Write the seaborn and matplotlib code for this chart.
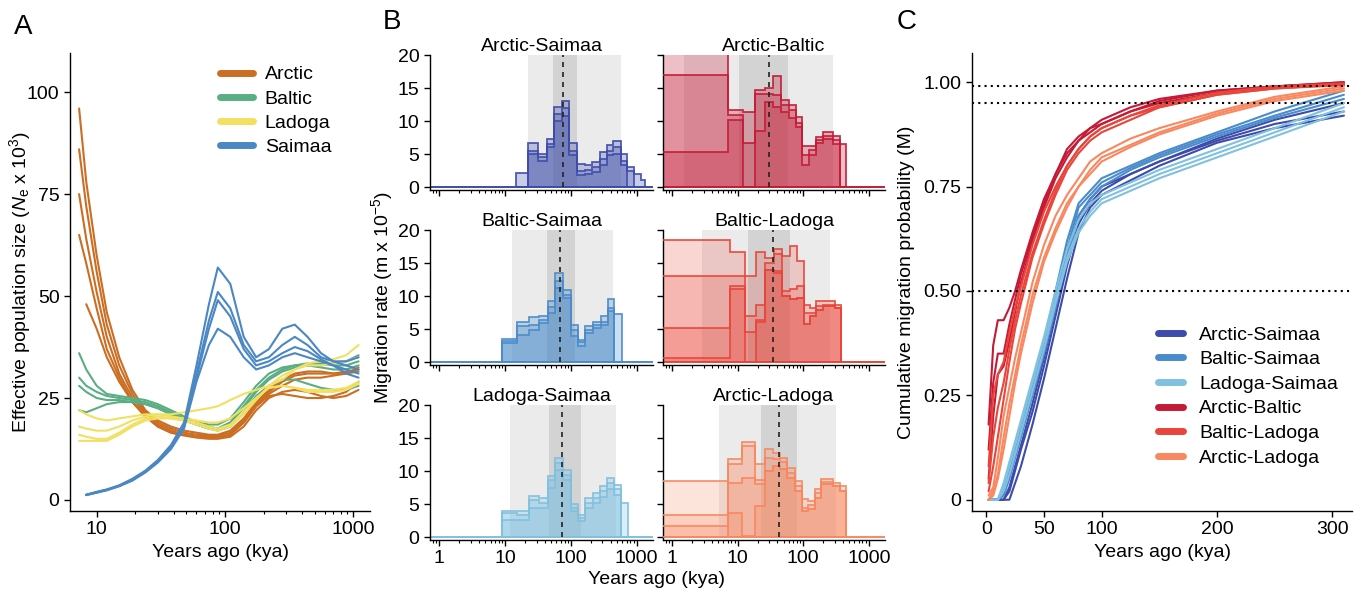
import numpy as np
import pandas as pd
import seaborn as sns
import matplotlib.pyplot as plt
from matplotlib.lines import Line2D
from matplotlib.ticker import FixedLocator, FixedFormatter, NullFormatter

# ---------------- data ----------------
# Panel A: effective population size (x1000) by replicate
a_kya = [7.3, 8.3, 10, 12, 15, 19, 24, 30, 38, 48, 60, 75, 88, 110, 140, 175, 220, 280, 350, 440, 560, 700, 880, 1100]
arctic_ne = [
    [96, 78, 60, 46, 35, 27, 22, 19.5, 18, 17, 16.5, 16, 16, 17, 20, 24, 27, 29.5, 31, 31.5, 31.5, 31, 31, 31.5],
    [86, 72, 56, 43, 33, 26, 21.5, 19, 17.5, 16.5, 16, 15.8, 15.8, 16.5, 19.5, 23.5, 26.5, 29, 30.5, 31, 31, 31, 31.5, 32],
    [75, 64, 51, 40, 31, 25, 21, 18.5, 17, 16, 15.5, 15.5, 15.5, 16, 19, 23, 26, 28, 29.5, 30, 30, 30.5, 31, 32.5],
    [65, 58, 47, 37, 30, 24, 20.5, 18, 16.5, 15.8, 15.3, 15, 15, 15.5, 18, 22, 25, 26.5, 27, 26.5, 25.5, 25, 25.5, 27],
    [np.nan, 48, 42, 35, 29, 24, 20.5, 18, 16.5, 16, 15.5, 15.3, 15.2, 16, 19, 23, 25.5, 26, 25.5, 25, 25, 25.5, 26.5, 29],
]
baltic_ne = [
    [36, 32, 28, 26, 25.5, 25, 24.5, 23.5, 22, 20.5, 19, 18, 17.5, 19, 22.5, 26.5, 29.5, 31.5, 32.5, 33, 33, 33.5, 34, 35.5],
    [30, 28, 26.5, 25.5, 25, 24.5, 24, 23, 21.5, 20, 18.5, 17.5, 17, 18, 21.5, 25.5, 28, 29.5, 29.5, 28.5, 27.5, 27, 27, 28],
    [28, 26.5, 25, 24.5, 24.5, 24, 23.5, 22.5, 21, 19.5, 18.5, 17.5, 17.5, 19, 23, 27, 30, 32, 33, 33.5, 33.5, 33, 33, 34],
    [22, 21.5, 22.5, 23.5, 24, 24, 23.5, 22.5, 21, 20, 19, 18.5, 18.5, 20, 24, 28, 31, 32.5, 33, 33, 32.5, 32, 32, 33],
]
ladoga_ne = [
    [22, 21, 20, 19.5, 20, 20.5, 21, 21, 21, 21.5, 22, 22.5, 23, 24.5, 26, 27, 28, 29.5, 32, 33.5, 34, 34.5, 35.5, 38],
    [18, 17.5, 17, 17, 18, 19.5, 20.5, 21, 20.5, 20, 19.5, 19, 19, 20, 22.5, 25, 27.5, 28, 27.5, 27, 27, 27, 27.5, 29],
    [16, 15.5, 15, 15, 16.5, 18.5, 20, 20.5, 20, 19.5, 18.5, 17.5, 17, 18, 21, 24.5, 28, 30.5, 32, 33, 33, 33.5, 34, 35],
    [14.5, 14.5, 14.5, 14.5, 16, 18, 19.5, 20, 20, 19.5, 19, 18, 17.5, 18.5, 21.5, 25, 27.5, 28, 27.5, 26.5, 26.5, 26.5, 27, 28.5],
]
saimaa_ne = [
    [np.nan, 1.3, 2.0, 2.6, 3.6, 5.2, 7.2, 9.8, 13.5, 19, 33, 48, 57, 53, 40, 35, 37, 42, 43, 40, 36, 34, 33, 32],
    [np.nan, 1.3, 1.9, 2.5, 3.5, 5, 7, 9.5, 13, 18.5, 31, 44, 51, 47, 38, 34, 35, 38, 40, 38, 35, 34, 34, 35],
    [np.nan, 1.2, 1.8, 2.4, 3.4, 4.8, 6.8, 9.3, 12.8, 18, 30, 42, 49, 45, 37, 33, 34, 36, 37.5, 36.5, 34.5, 33, 32, 31],
    [np.nan, 1.2, 1.8, 2.4, 3.4, 4.8, 6.8, 9.2, 12.5, 17.5, 29, 38, 42, 40, 35, 32, 33, 35, 36, 35, 34, 33, 31, 30],
]
pops = ['Arctic', 'Baltic', 'Ladoga', 'Saimaa']

# Panel B: migration rate histograms (bin edges in kya, one list per replicate)
as_edges = [14.8, 22.6, 31.8, 42.7, 56, 72.8, 95, 124, 162, 210, 275, 349, 443, 574, 710, 900, 1150, 1350]
as_reps = [
    [2.2, 6.6, 5.0, 7.2, 12.1, 13.0, 6.7, 3.5, 3.3, 3.8, 5.3, 6.3, 7.0, 5.0, 3.0, 1.9, 1.0],
    [0, 5.5, 4.5, 6.5, 11.1, 12.0, 5.5, 2.5, 2.6, 3.0, 4.2, 5.5, 6.0, 4.0, 2.4, 0, 0],
    [0, 5.0, 4.0, 6.0, 10.0, 10.8, 4.8, 1.8, 2.0, 2.3, 3.3, 4.8, 5.0, 3.3, 0, 0, 0],
]
as_ci = [22.6, 578, 53, 124, 75]   # 95% lo, hi, 50% lo, hi, mean

ab_edges = [0.5, 7.0, 12.2, 18, 25.6, 34.4, 46, 60, 76.5, 97, 122, 155, 200, 285, 361, 457]
ab_reps = [
    [21, 11.7, 11.4, 14.7, 15.0, 16.8, 13.2, 12.5, 10.6, 6.2, 6.2, 7.6, 8.3, 7.8, 6.5],
    [17.0, 10.9, 6.6, 14.1, 14.1, 13.9, 12.4, 11.6, 9.7, 4.8, 5.6, 7.1, 7.8, 7.1, 0],
    [5.3, 10.1, 0, 8.5, 12.9, 12.1, 11.4, 10.4, 9.1, 3.3, 4.8, 6.6, 7.3, 6.5, 0],
]
ab_ci = [1.5, 285, 10.4, 58, 30]

bs_edges = [9.0, 15.3, 23.1, 33, 44.3, 57.4, 77, 101, 128, 166, 218, 286, 362, 453, 594]
bs_reps = [
    [3.5, 6.0, 6.8, 6.9, 9.2, 13.5, 10.9, 5.6, 3.4, 5.4, 6.1, 6.9, 9.5, 7.2],
    [3.2, 5.4, 5.6, 6.4, 8.4, 12.2, 10.2, 4.9, 3.0, 4.9, 5.6, 6.1, 8.2, 0],
    [2.9, 4.1, 4.8, 5.9, 7.4, 11.2, 9.7, 3.9, 2.4, 4.4, 5.1, 5.6, 7.7, 0],
]
bs_ci = [12.8, 443, 43, 117, 69]

bl_edges = [0.5, 7.5, 12.7, 18.7, 26, 35.6, 47.8, 62, 80, 101, 128, 159, 200, 303, 374]
bl_reps = [
    [18.5, 16.6, 13.0, 16.6, 15.8, 17.1, 16.0, 17.6, 15.3, 8.7, 8.2, 9.2, 9.2, 8.7],
    [13.1, 13.0, 7.0, 8.7, 15.0, 16.3, 10.7, 11.0, 11.5, 7.4, 7.4, 8.5, 8.7, 8.2],
    [5.2, 11.5, 4.5, 6.4, 14.0, 13.8, 10.0, 9.5, 9.7, 5.7, 6.9, 7.9, 8.5, 8.2],
    [0.6, 11.0, 0, 6.0, 14.0, 13.5, 10.0, 9.5, 9.7, 5.7, 6.9, 7.9, 8.5, 8.2],
]
bl_ci = [2.8, 260, 14.4, 62, 34.4]

ls_edges = [9.0, 15.3, 23.1, 33, 45, 58, 77, 101, 128, 166, 213, 276, 349, 453, 574, 727]
ls_reps = [
    [4.0, 3.9, 6.2, 5.9, 9.3, 11.9, 10.2, 5.0, 3.4, 5.9, 6.6, 7.7, 8.9, 7.9, 5.1],
    [3.6, 3.4, 5.6, 5.1, 8.7, 11.2, 9.4, 4.4, 2.9, 5.1, 5.9, 6.9, 8.2, 7.2, 0],
    [2.6, 2.6, 4.4, 4.4, 7.4, 10.2, 8.7, 3.9, 2.4, 4.4, 5.1, 6.1, 7.2, 6.4, 0],
]
ls_ci = [11.8, 481, 46, 141, 72]

al_edges = [0.5, 7.0, 11.7, 18, 25.6, 34.4, 43.5, 57, 74, 95.5, 118, 150, 189, 285, 361, 457]
al_reps = [
    [8.5, 11.8, 14.4, 11.0, 13.3, 12.8, 12.0, 10.5, 8.5, 5.7, 5.4, 7.2, 8.8, 8.2, 7.7],
    [3.4, 11.0, 13.8, 8.7, 12.0, 11.8, 11.3, 9.7, 7.7, 4.4, 4.9, 6.7, 8.3, 7.7, 7.0],
    [1.6, 8.2, 9.0, 8.0, 10.0, 10.8, 10.3, 9.0, 7.0, 3.9, 4.2, 5.9, 8.0, 7.7, 7.0],
    [0, 3.7, 0.1, 4.7, 10.0, 10.8, 10.3, 9.0, 7.0, 3.9, 4.2, 5.9, 8.0, 7.7, 7.0],
]
al_ci = [5.2, 321, 22.3, 81, 42]

# Panel C: cumulative migration probability
c_kya = [2, 6, 10, 15, 20, 25, 30, 40, 50, 60, 70, 80, 90, 100, 125, 150, 200, 250, 310]
c_arctic_saimaa = [
    [0, 0, 0, 0, 0, 0.04, 0.08, 0.18, 0.29, 0.41, 0.53, 0.64, 0.70, 0.73, 0.765, 0.80, 0.855, 0.89, 0.92],
    [0, 0, 0, 0, 0.02, 0.07, 0.12, 0.21, 0.32, 0.44, 0.56, 0.66, 0.71, 0.74, 0.78, 0.81, 0.86, 0.90, 0.93],
    [0, 0, 0, 0, 0.03, 0.08, 0.13, 0.23, 0.34, 0.46, 0.58, 0.68, 0.72, 0.75, 0.78, 0.81, 0.865, 0.91, 0.95],
]
c_baltic_saimaa = [
    [0, 0, 0, 0.03, 0.08, 0.13, 0.18, 0.28, 0.38, 0.50, 0.62, 0.71, 0.74, 0.77, 0.80, 0.83, 0.88, 0.93, 0.98],
    [0, 0, 0, 0.02, 0.07, 0.12, 0.17, 0.27, 0.37, 0.48, 0.60, 0.70, 0.73, 0.76, 0.795, 0.825, 0.875, 0.92, 0.97],
    [0, 0, 0, 0.01, 0.05, 0.10, 0.15, 0.25, 0.35, 0.46, 0.58, 0.68, 0.72, 0.75, 0.79, 0.82, 0.87, 0.915, 0.96],
]
c_ladoga_saimaa = [
    [0, 0, 0, 0.04, 0.09, 0.14, 0.19, 0.29, 0.39, 0.50, 0.60, 0.67, 0.71, 0.73, 0.76, 0.79, 0.84, 0.89, 0.95],
    [0, 0, 0, 0.03, 0.08, 0.13, 0.18, 0.28, 0.38, 0.48, 0.58, 0.65, 0.69, 0.72, 0.75, 0.78, 0.83, 0.88, 0.94],
    [0, 0, 0, 0.02, 0.06, 0.11, 0.16, 0.26, 0.36, 0.47, 0.57, 0.64, 0.68, 0.71, 0.74, 0.77, 0.82, 0.87, 0.93],
]
c_arctic_baltic = [
    [0.18, 0.37, 0.43, 0.43, 0.46, 0.50, 0.55, 0.64, 0.72, 0.78, 0.84, 0.87, 0.89, 0.91, 0.94, 0.96, 0.98, 0.99, 1.0],
    [0.12, 0.28, 0.35, 0.35, 0.42, 0.48, 0.54, 0.63, 0.71, 0.78, 0.83, 0.86, 0.89, 0.90, 0.93, 0.955, 0.98, 0.99, 1.0],
    [0.05, 0.20, 0.30, 0.32, 0.38, 0.45, 0.52, 0.62, 0.70, 0.77, 0.82, 0.86, 0.88, 0.90, 0.93, 0.95, 0.975, 0.99, 0.995],
]
c_baltic_ladoga = [
    [0.08, 0.25, 0.30, 0.33, 0.40, 0.46, 0.51, 0.61, 0.69, 0.75, 0.80, 0.84, 0.87, 0.89, 0.92, 0.945, 0.975, 0.99, 0.997],
    [0.04, 0.15, 0.22, 0.28, 0.36, 0.43, 0.49, 0.59, 0.67, 0.74, 0.80, 0.84, 0.87, 0.89, 0.92, 0.94, 0.97, 0.985, 0.995],
    [0.02, 0.08, 0.15, 0.24, 0.33, 0.41, 0.47, 0.58, 0.66, 0.73, 0.79, 0.83, 0.86, 0.88, 0.91, 0.94, 0.97, 0.985, 0.993],
]
c_arctic_ladoga = [
    [0.01, 0.03, 0.10, 0.20, 0.27, 0.34, 0.40, 0.52, 0.61, 0.68, 0.73, 0.77, 0.81, 0.83, 0.865, 0.89, 0.93, 0.965, 0.99],
    [0.0, 0.02, 0.06, 0.15, 0.23, 0.30, 0.37, 0.49, 0.58, 0.65, 0.71, 0.75, 0.79, 0.82, 0.85, 0.88, 0.925, 0.96, 0.985],
    [0.0, 0.01, 0.05, 0.12, 0.20, 0.28, 0.35, 0.47, 0.57, 0.64, 0.70, 0.75, 0.78, 0.81, 0.845, 0.875, 0.92, 0.955, 0.98],
]
pairs = ['Arctic-Saimaa', 'Baltic-Saimaa', 'Ladoga-Saimaa', 'Arctic-Baltic', 'Baltic-Ladoga', 'Arctic-Ladoga']
c_thresholds = [0.5, 0.95, 0.99]

# ---------------- style ----------------
pop_colors = {'Arctic': '#cb6d22', 'Baltic': '#5aae84', 'Ladoga': '#f1e062', 'Saimaa': '#4a87c3'}
pair_colors = {'Arctic-Saimaa': '#3d4caa', 'Baltic-Saimaa': '#4a8ccb', 'Ladoga-Saimaa': '#80c0e0',
               'Arctic-Baltic': '#c51a36', 'Baltic-Ladoga': '#e9453a', 'Arctic-Ladoga': '#f9875f'}

sns.set_theme(style='ticks')
plt.rcParams['font.family'] = ['Liberation Sans', 'DejaVu Sans']
plt.rcParams['mathtext.fontset'] = 'custom'
plt.rcParams['mathtext.rm'] = 'Liberation Sans'
plt.rcParams['mathtext.it'] = 'Liberation Sans:italic'
plt.rcParams.update({'font.size': 14, 'axes.labelsize': 14, 'xtick.labelsize': 14, 'ytick.labelsize': 14,
                     'legend.fontsize': 14, 'text.color': 'black', 'axes.labelcolor': 'black',
                     'axes.linewidth': 1.0, 'xtick.major.size': 4, 'ytick.major.size': 4,
                     'xtick.minor.size': 2.5, 'xtick.major.width': 1.0, 'ytick.major.width': 1.0,
                     'xtick.minor.width': 0.8, 'axes.edgecolor': 'black',
                     'xtick.color': 'black', 'ytick.color': 'black'})

W, H = 1365, 595
fig = plt.figure(figsize=(W / 100, H / 100), dpi=100)


def box(left, top, right, bottom):
    return [left / W, 1 - bottom / H, (right - left) / W, (bottom - top) / H]


def log_ticks(ax, majors):
    ax.xaxis.set_major_locator(FixedLocator(majors))
    ax.xaxis.set_major_formatter(FixedFormatter([f'{m:g}' for m in majors]))
    minors = [m * k for m in [0.1] + majors for k in range(2, 10)]
    ax.xaxis.set_minor_locator(FixedLocator(minors))
    ax.xaxis.set_minor_formatter(NullFormatter())


# ---------------- Panel A ----------------
axA = fig.add_axes(box(70, 53, 370, 511))
axA.set_xscale('log')
rows = []
for pop, reps in zip(pops, [arctic_ne, baltic_ne, ladoga_ne, saimaa_ne]):
    for i, r in enumerate(reps):
        for x, y in zip(a_kya, r):
            rows.append((pop, i, x, y))
dfA = pd.DataFrame(rows, columns=['pop', 'rep', 'kya', 'ne']).dropna()
sns.lineplot(data=dfA, x='kya', y='ne', hue='pop', units='rep', estimator=None,
             palette=pop_colors, hue_order=pops, lw=1.5, legend=False, ax=axA)
axA.set_xlim(6.2, 1350)
axA.set_ylim(-2.7, 109.6)
log_ticks(axA, [10, 100, 1000])
axA.set_yticks([0, 25, 50, 75, 100])
axA.set_xlabel('Years ago (kya)')
axA.set_ylabel(r'Effective population size ($N_\mathrm{e}$ x 10$^3$)')
axA.yaxis.set_label_coords(-0.123, 0.5)
sns.despine(ax=axA)
handles = [Line2D([], [], color=pop_colors[p], lw=5) for p in pops]
axA.legend(handles, pops, loc='upper left', bbox_to_anchor=(0.5, 0.972), frameon=False, fontsize=14,
           borderpad=0, borderaxespad=0, handlelength=1.7, handletextpad=0.6, labelspacing=0.34)

# ---------------- Panel B ----------------
panels = [
    ('Arctic-Saimaa', as_edges, as_reps, as_ci),
    ('Arctic-Baltic', ab_edges, ab_reps, ab_ci),
    ('Baltic-Saimaa', bs_edges, bs_reps, bs_ci),
    ('Baltic-Ladoga', bl_edges, bl_reps, bl_ci),
    ('Ladoga-Saimaa', ls_edges, ls_reps, ls_ci),
    ('Arctic-Ladoga', al_edges, al_reps, al_ci),
]
cols = [(430, 653), (663, 885)]
row_bottoms = [190, 365, 540]
for k, (name, edges, reps, ci) in enumerate(panels):
    r, c = divmod(k, 2)
    bottom = row_bottoms[r]
    ax = fig.add_axes(box(cols[c][0], bottom - 135, cols[c][1], bottom))
    ax.set_xscale('log')
    col = pair_colors[name]
    ax.fill_between([ci[0], ci[1]], 0, 20, color='#ebebeb', lw=0, zorder=0)
    ax.fill_between([ci[2], ci[3]], 0, 20, color='#d3d3d3', lw=0, zorder=0.5)
    ax.axhline(0, color=col, lw=1.4, zorder=1)
    alpha = 0.28 if len(reps) == 3 else 0.22
    for vals in reps:
        ax.stairs(vals, edges, baseline=0, fill=True, color=col, alpha=alpha, lw=0, zorder=2)
    for vals in reps:
        ax.stairs(vals, edges, baseline=0, fill=False, color=col, lw=1.3, alpha=0.9, zorder=3)
    ax.vlines(ci[4], 0, 20, colors='#222222', linestyles=(0, (3, 3)), lw=1.2, zorder=4)
    ax.set_xlim(0.72, 1770)
    ax.set_ylim(-0.45, 20)
    log_ticks(ax, [1, 10, 100, 1000])
    ax.set_yticks([0, 5, 10, 15, 20])
    ax.set_title(name, pad=3, fontsize=14)
    if r < 2:
        ax.tick_params(axis='x', labelbottom=False)
    if c == 1:
        ax.tick_params(axis='y', labelleft=False)
    if r == 1 and c == 0:
        ax.set_ylabel(r'Migration rate (m x 10$^{-5}$)')
        ax.yaxis.set_label_coords(-0.157, 0.5)
    sns.despine(ax=ax)
fig.text(657 / W, 1 - 580 / H, 'Years ago (kya)', ha='center', va='center', fontsize=14)

# ---------------- Panel C ----------------
axC = fig.add_axes(box(972, 53, 1352, 511))
rows = []
for pair, reps in zip(pairs, [c_arctic_saimaa, c_baltic_saimaa, c_ladoga_saimaa,
                              c_arctic_baltic, c_baltic_ladoga, c_arctic_ladoga]):
    for i, r in enumerate(reps):
        for x, y in zip(c_kya, r):
            rows.append((pair, i, x, y))
dfC = pd.DataFrame(rows, columns=['pair', 'rep', 'kya', 'M'])
sns.lineplot(data=dfC, x='kya', y='M', hue='pair', units='rep', estimator=None,
             palette=pair_colors, hue_order=pairs, lw=1.5, legend=False, ax=axC)
for t in c_thresholds:
    axC.axhline(t, color='black', lw=1.5, ls=(0, (1, 2)), zorder=5)
axC.set_xlim(-12.4, 317)
axC.set_ylim(-0.027, 1.07)
axC.set_xticks([0, 50, 100, 200, 300])
axC.set_yticks([0, 0.25, 0.5, 0.75, 1.0])
axC.set_yticklabels(['0', '0.25', '0.50', '0.75', '1.00'])
axC.set_xlabel('Years ago (kya)')
axC.set_ylabel('Cumulative migration probability (M)')
axC.yaxis.set_label_coords(-0.15, 0.5)
sns.despine(ax=axC)
handles = [Line2D([], [], color=pair_colors[p], lw=5) for p in pairs]
axC.legend(handles, pairs, loc='upper left', bbox_to_anchor=(0.49, 0.404), frameon=False, fontsize=14,
           borderpad=0, borderaxespad=0, handlelength=1.3, handletextpad=0.8, labelspacing=0.36)

# panel letters
for letter, x, y in [('A', 23, 27), ('B', 392, 22), ('C', 907, 22)]:
    fig.text(x / W, 1 - y / H, letter, ha='center', va='center', fontsize=20)

fig.savefig('out.png', dpi=100)
